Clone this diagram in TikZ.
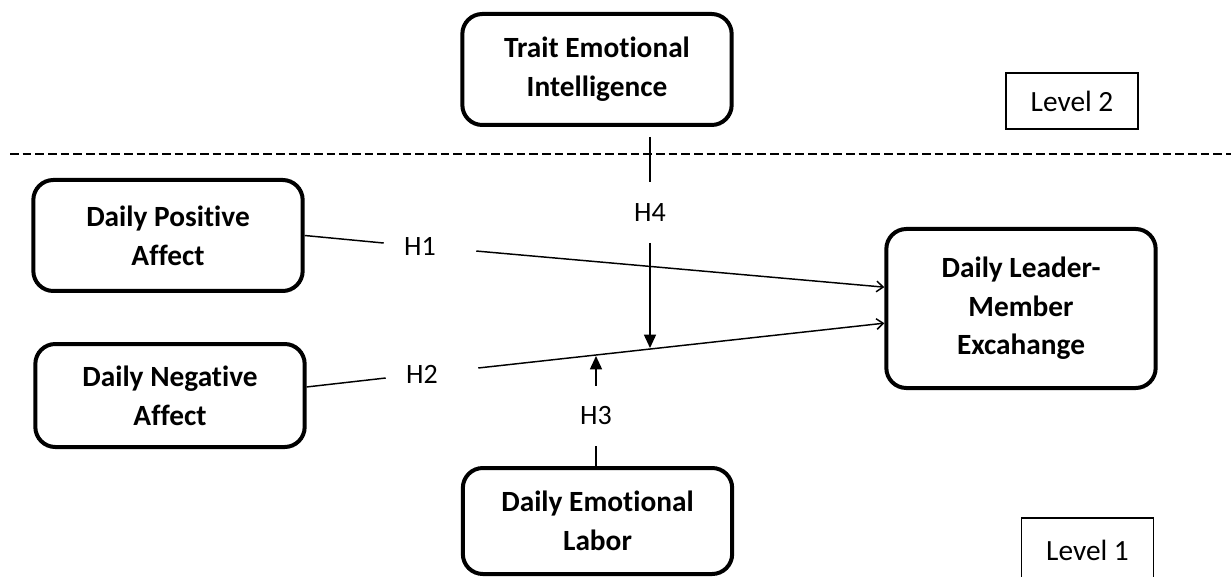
\documentclass[tikz,border=0pt]{standalone}
\usepackage{fontspec}
\setmainfont{Carlito}[Ligatures={NoCommon}]
\usetikzlibrary{arrows.meta}

\def\ux{0.75pt}
\def\uy{-0.75pt}

\begin{document}
\begin{tikzpicture}[x=\ux,y=\uy, font=\fontsize{22}{29}\selectfont]
		\tikzset{
			construct/.style={draw, line width=3pt, rounded corners=15pt, align=center,
				font=\fontsize{22}{29}\selectfont\bfseries, minimum width=202pt, minimum height=#1},
			levelbox/.style={draw, line width=1.1pt, minimum width=99pt, minimum height=#1},
			hyp/.style={font=\fontsize{21}{24}\selectfont, inner sep=0pt, minimum width=54pt, minimum height=45pt},
			link/.style={line width=1.1pt},
			effect/.style={link, -{Straight Barb[length=5pt,width=8pt]}},
			moderate/.style={link, -{Triangle[length=10pt,width=9pt]}},
		}
		\useasboundingbox (0,0) rectangle (1231,577);

		\node[construct=83.25pt] (tei) at (597,69.5) {Trait Emotional\\Intelligence};
		\node[construct=83.25pt] (dpa) at (168,235.5) {Daily Positive\\Affect};
		\node[construct=77.25pt] (dna) at (170,395.5) {Daily Negative\\Affect};
		\node[construct=119.25pt] (lmx) at (1021,308.5) {Daily Leader-\\Member\\Excahange};
		\node[construct=79.5pt] (del) at (597.5,521) {Daily Emotional\\Labor};
		\node[levelbox=42pt] (lvl2) at (1072,101) {Level 2};
		\node[levelbox=48pt] (lvl1) at (1087.5,550) {Level 1};

		\node[hyp] (h1) at (420,246.5) {H1};
		\node[hyp] (h2) at (422,374) {H2};
		\node[hyp] (h3) at (596,416) {H3};
		\node[hyp] (h4) at (650,212.5) {H4};

		\coordinate (h4top) at (650,137);
		\coordinate (m4) at (650,348);
		\coordinate (m3) at (596,356);

		\draw[dashed, line width=1.3pt, dash pattern=on 6.5pt off 3pt] (10,154) -- (1231,154);

		\draw[link] (dpa.east) -- ([yshift=2.6pt]h1.west);
		\draw[effect] ([xshift=15pt,yshift=-3.4pt]h1.east) -- ([yshift=16pt]lmx.west);
		\draw[link] ([yshift=6.4pt]dna.east) -- ([yshift=-3pt]h2.west);
		\draw[effect] ([xshift=15pt,yshift=4.5pt]h2.east) -- ([yshift=-11pt]lmx.west);

		\draw[link] (h4top) -- (h4.north);
		\draw[moderate] (h4.south) -- (m4);
		\draw[moderate] (h3.north) -- (m3);
		\draw[link] (h3.south) -- (h3.south |- del.north);
\end{tikzpicture}
\end{document}
